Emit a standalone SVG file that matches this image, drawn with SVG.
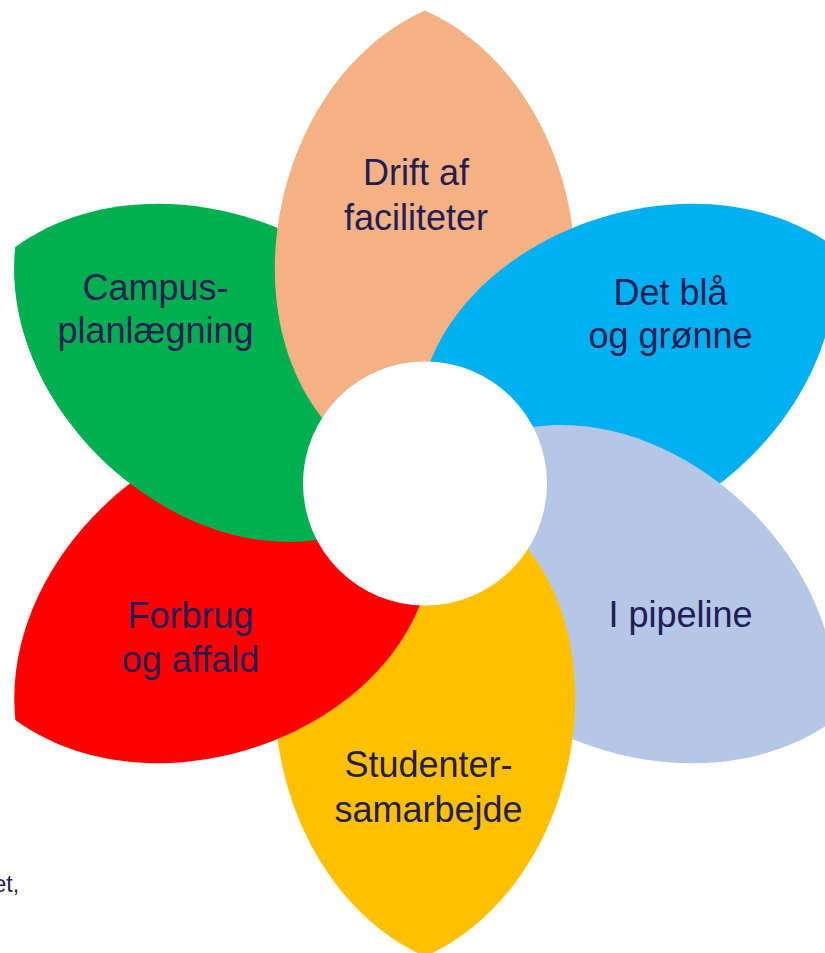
<svg xmlns="http://www.w3.org/2000/svg" width="825" height="953" viewBox="0 0 825 953">
<style>
  .lbl { font-family: "Liberation Sans", Arial, sans-serif; font-size: 36px; fill: #221E55; text-anchor: middle; }
  .note { font-family: "Liberation Sans", Arial, sans-serif; font-size: 23px; fill: #221E55; }
</style>
<defs>
  <path id="petal" d="M 425 483.5 C 640 428.5 610 93.5 425 10.5 C 240 93.5 210 428.5 425 483.5 Z"/>
  <clipPath id="leftHalf" clipPathUnits="userSpaceOnUse">
    <rect x="-1000" y="-1000" width="1425" height="3000"/>
  </clipPath>
</defs>
<rect width="825" height="953" fill="#ffffff"/>
<g id="petals">
  <g id="petal-campus"><use href="#petal" fill="#00B050" transform="rotate(300 425 483.5)"/></g>
  <g id="petal-drift"><use href="#petal" fill="#F4B183"/></g>
  <g id="petal-blaa"><use href="#petal" fill="#00B0F0" transform="rotate(60 425 483.5)"/></g>
  <g id="petal-pipeline"><use href="#petal" fill="#B4C7E7" transform="rotate(120 425 483.5)"/></g>
  <g id="petal-studenter"><use href="#petal" fill="#FFC000" transform="rotate(180 425 483.5)"/></g>
  <g id="petal-forbrug"><use href="#petal" fill="#FF0000" transform="rotate(240 425 483.5)"/></g>
  <g id="petal-campus-overlap" transform="rotate(300 425 483.5)"><use href="#petal" fill="#00B050" clip-path="url(#leftHalf)"/></g>
</g>
<g id="center"><circle cx="425" cy="483.5" r="122" fill="#ffffff"/></g>
<g id="connectors"></g>
<g id="labels">
  <text class="lbl" x="416" y="185">Drift af</text>
  <text class="lbl" x="416" y="230">faciliteter</text>
  <text class="lbl" x="670.5" y="305">Det blå</text>
  <text class="lbl" x="670.5" y="348">og grønne</text>
  <text class="lbl" x="155.5" y="300">Campus-</text>
  <text class="lbl" x="155.5" y="343">planlægning</text>
  <text class="lbl" x="190.5" y="628">Forbrug</text>
  <text class="lbl" x="190.5" y="672">og affald</text>
  <text class="lbl" x="680.5" y="627">I pipeline</text>
  <text class="lbl" x="428.5" y="777">Studenter-</text>
  <text class="lbl" x="428.5" y="822">samarbejde</text>
  <text class="note" x="-6.5" y="892">et,</text>
</g>
</svg>
